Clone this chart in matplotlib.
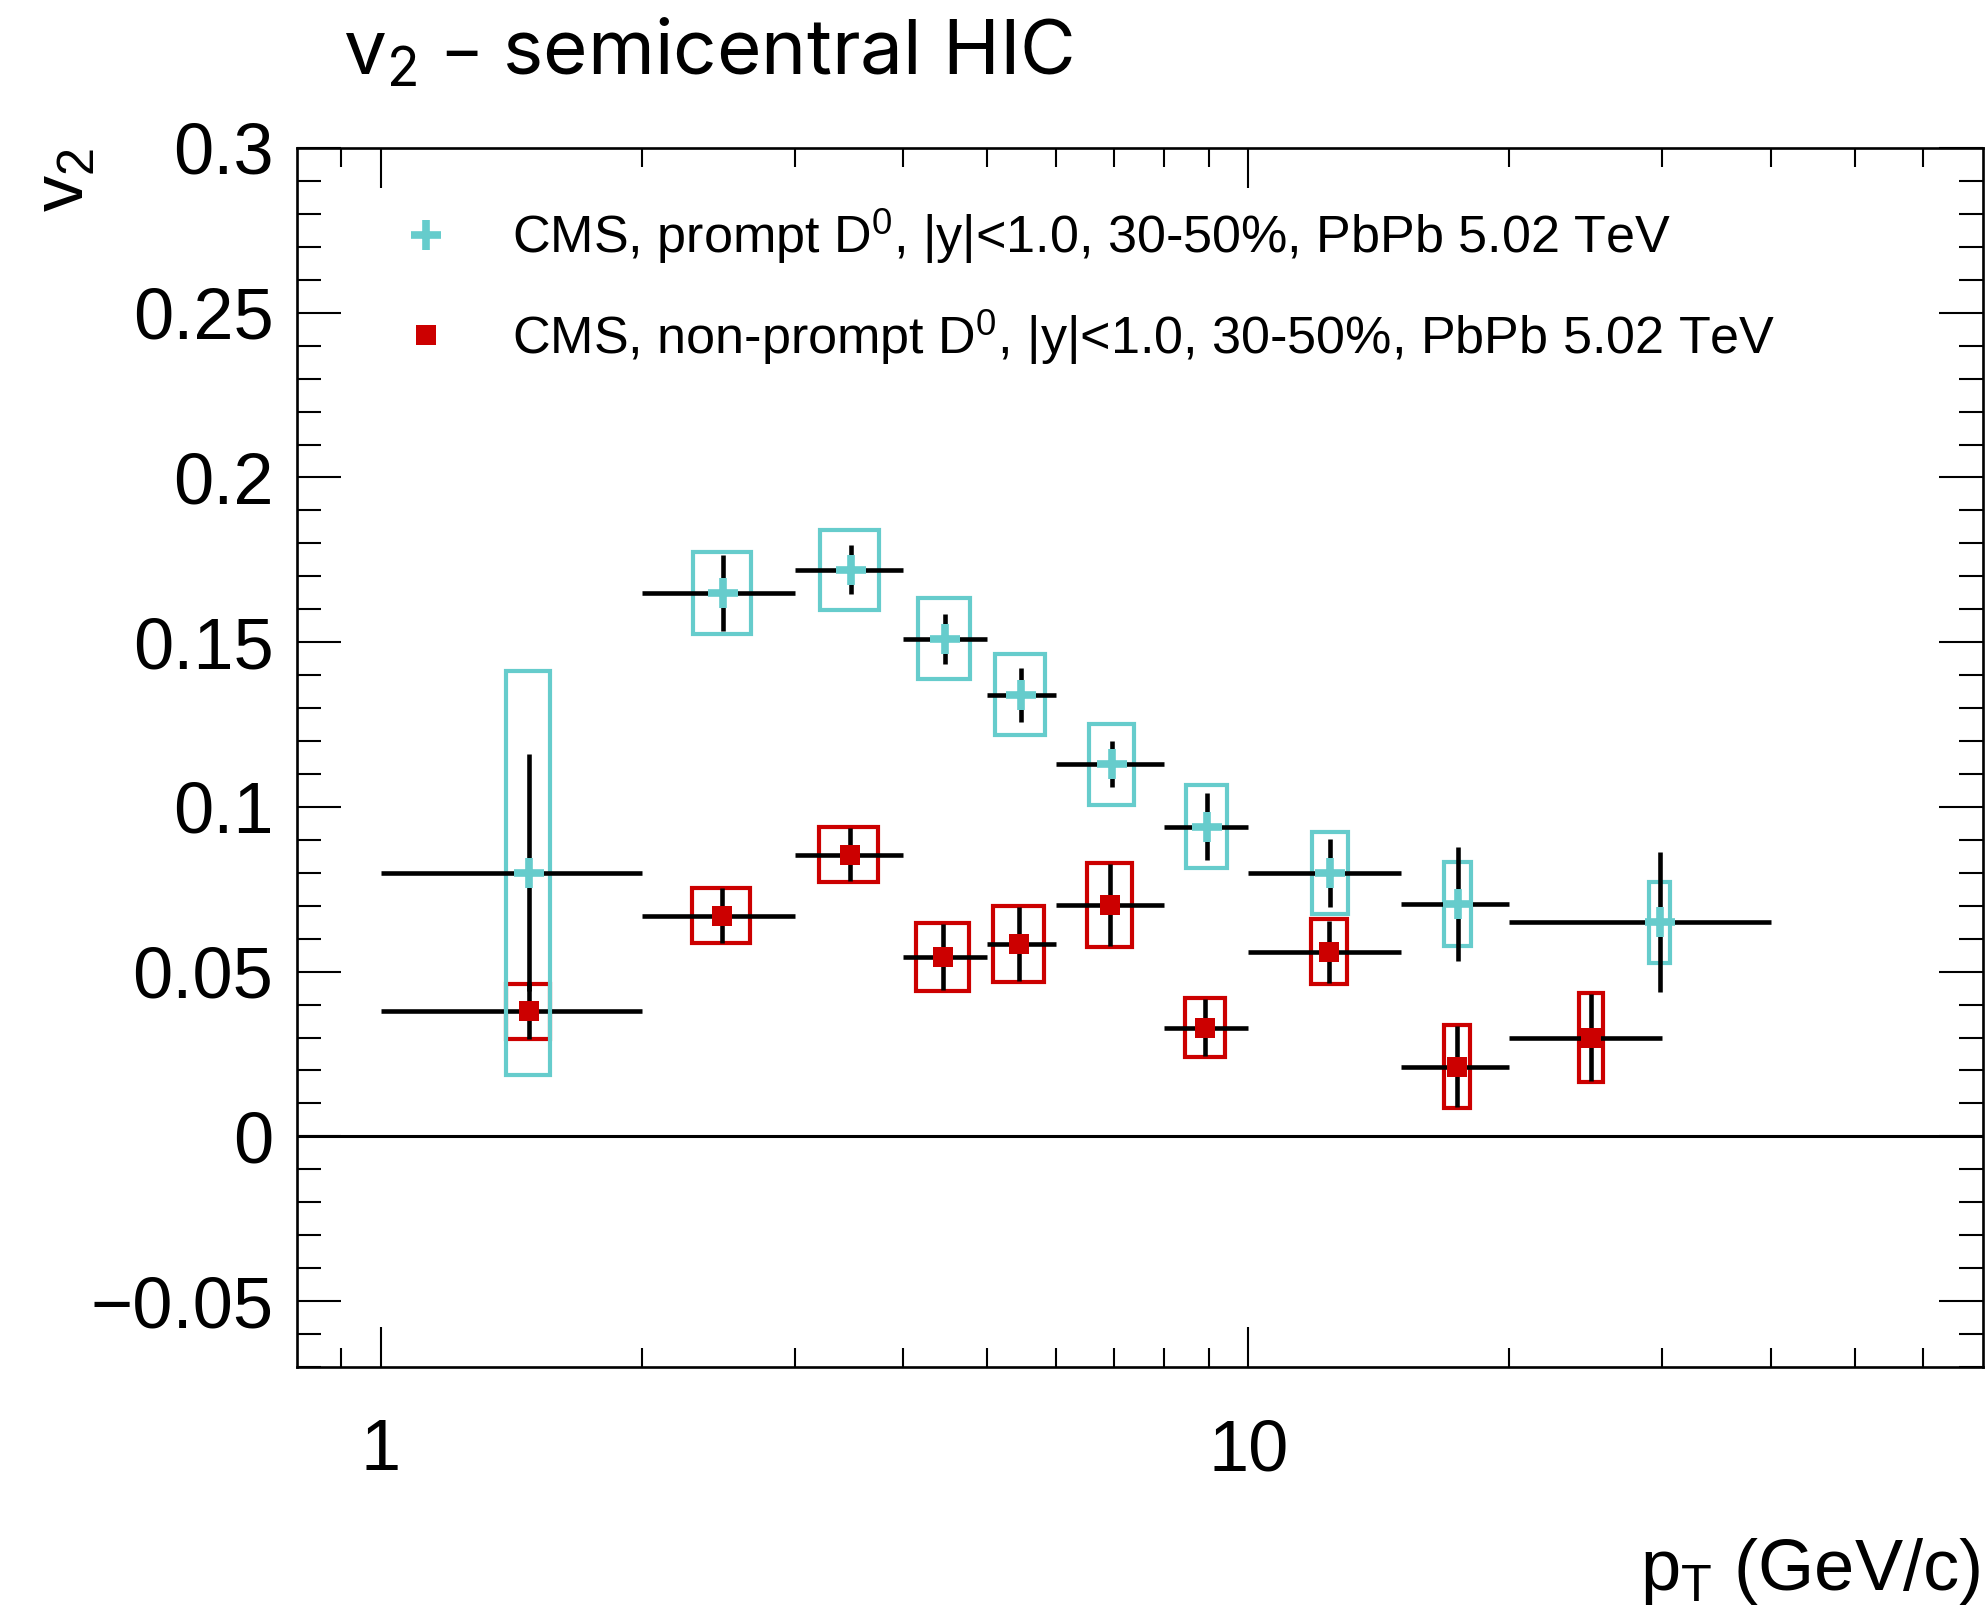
import numpy as np
import matplotlib
matplotlib.use("Agg")
import matplotlib.pyplot as plt
from matplotlib.ticker import FixedLocator, FixedFormatter, NullFormatter, MultipleLocator

# ---------------- data ----------------
prompt_pt = [1.48, 2.48, 3.48, 4.47, 5.47, 6.97, 8.96, 12.43, 17.43, 29.8]
prompt_lo = [1, 2, 3, 4, 5, 6, 8, 10, 15, 20]
prompt_hi = [2, 3, 4, 5, 6, 8, 10, 15, 20, 40]
prompt_v2 = [0.080, 0.165, 0.172, 0.151, 0.134, 0.113, 0.094, 0.080, 0.0705, 0.065]
prompt_stat = [0.036, 0.0115, 0.0074, 0.0075, 0.0083, 0.0071, 0.0102, 0.0103, 0.0173, 0.0213]
prompt_sys = [0.0614, 0.0124, 0.0122, 0.0123, 0.0123, 0.0123, 0.0126, 0.0124, 0.0128, 0.0123]
prompt_box_dx = [0.087, 0.19, 0.27, 0.31, 0.365, 0.415, 0.48, 0.58, 0.61, 0.835]

nonprompt_pt = [1.48, 2.47, 3.47, 4.45, 5.44, 6.93, 8.92, 12.4, 17.4, 24.86]
nonprompt_lo = [1, 2, 3, 4, 5, 6, 8, 10, 15, 20]
nonprompt_hi = [2, 3, 4, 5, 6, 8, 10, 15, 20, 30]
nonprompt_v2 = [0.038, 0.067, 0.0855, 0.0544, 0.0585, 0.0703, 0.033, 0.0561, 0.0212, 0.030]
nonprompt_stat = [0.0085, 0.0083, 0.008, 0.010, 0.0112, 0.0125, 0.0087, 0.0094, 0.0122, 0.0132]
nonprompt_sys = [0.0083, 0.0083, 0.0083, 0.0104, 0.0115, 0.0128, 0.009, 0.0098, 0.0125, 0.0136]
nonprompt_box_dx = [0.087, 0.19, 0.27, 0.31, 0.365, 0.415, 0.48, 0.58, 0.61, 0.8]

labels = ["CMS, prompt D$^{0}$, |y|<1.0, 30-50%, PbPb 5.02 TeV",
          "CMS, non-prompt D$^{0}$, |y|<1.0, 30-50%, PbPb 5.02 TeV"]
x_major_ticks = [1, 10]
x_major_labels = ["1", "10"]
x_minor_ticks = [0.9, 2, 3, 4, 5, 6, 7, 8, 9, 20, 30, 40, 50, 60]
title_text = "v$_{2}$ – semicentral HIC"
xlabel_text = "p$_{T}$ (GeV/c)"
ylabel_text = "v$_{2}$"

# ---------------- style ----------------
CYAN = "#66CCCC"
RED = "#CC0000"
plt.rcParams["font.family"] = ["Liberation Sans", "DejaVu Sans"]
plt.rcParams["mathtext.default"] = "regular"

W, H = 1988, 1613
fig = plt.figure(figsize=(W / 100, H / 100), dpi=100)
ax_l, ax_r, ax_t, ax_b = 297, 1983, 148, 1367
ax = fig.add_axes([ax_l / W, 1 - ax_b / H, (ax_r - ax_l) / W, (ax_b - ax_t) / H])
ax.set_xscale("log")
ax.set_xlim(0.8, 70.3)
ax.set_ylim(-0.07, 0.3)


def draw_series(pt, lo, hi, v2, stat, sys, dx, color, marker, ms, mew, z0):
    pt = np.asarray(pt, float)
    v2 = np.asarray(v2, float)
    sys = np.asarray(sys, float)
    dx = np.asarray(dx, float)
    ax.bar(pt, 2 * sys, width=2 * dx, bottom=v2 - sys, fill=False,
           edgecolor=color, linewidth=3.0, joinstyle="miter", zorder=z0)
    ax.errorbar(pt, v2, yerr=stat,
                xerr=[pt - np.asarray(lo, float), np.asarray(hi, float) - pt],
                fmt="none", ecolor="black", elinewidth=3.3, capsize=0, zorder=z0 + 1)
    if marker == "+":
        h, = ax.plot(pt, v2, ls="none", marker="+", ms=ms, mew=mew,
                     color=color, zorder=z0 + 2)
    else:
        h, = ax.plot(pt, v2, ls="none", marker=marker, ms=ms, mew=0,
                     color=color, zorder=z0 + 2)
    return h


h_np = draw_series(nonprompt_pt, nonprompt_lo, nonprompt_hi, nonprompt_v2,
                   nonprompt_stat, nonprompt_sys, nonprompt_box_dx,
                   RED, "s", 15, 0, 3)
h_p = draw_series(prompt_pt, prompt_lo, prompt_hi, prompt_v2,
                  prompt_stat, prompt_sys, prompt_box_dx,
                  CYAN, "+", 21, 5.5, 7)

ax.axhline(0, color="black", lw=2.2, zorder=1)

# ---------------- axes / ticks ----------------
for s in ax.spines.values():
    s.set_linewidth(1.9)
ax.xaxis.set_major_locator(FixedLocator(x_major_ticks))
ax.xaxis.set_major_formatter(FixedFormatter(x_major_labels))
ax.xaxis.set_minor_locator(FixedLocator(x_minor_ticks))
ax.xaxis.set_minor_formatter(NullFormatter())
ax.yaxis.set_major_locator(MultipleLocator(0.05))
ax.yaxis.set_minor_locator(MultipleLocator(0.01))
ax.yaxis.set_major_formatter(matplotlib.ticker.FuncFormatter(
    lambda v, p: ("%g" % round(v, 3)).replace("-", "\u2212")))

ax.tick_params(axis="both", which="both", direction="in", top=True, right=True,
               width=1.5, labelsize=52)
ax.tick_params(axis="x", which="major", length=29, pad=37)
ax.tick_params(axis="x", which="minor", length=14)
ax.tick_params(axis="y", which="major", length=32, pad=17)
ax.tick_params(axis="y", which="minor", length=17)

# axis titles
ax.set_xlabel(xlabel_text, fontsize=52, ha="right", va="baseline")
ax.xaxis.set_label_coords((1980 - ax_l) / (ax_r - ax_l), -(1590 - ax_b) / (ax_b - ax_t))
ax.set_ylabel(ylabel_text, fontsize=52, ha="right", va="baseline", rotation=90)
ax.yaxis.set_label_coords(-(ax_l - 84) / (ax_r - ax_l), 1.0)

# legend
leg = ax.legend([h_p, h_np], labels, loc="upper left",
                bbox_to_anchor=((400 - ax_l) / (ax_r - ax_l), 1 - (206 - ax_t) / (ax_b - ax_t)),
                frameon=False, fontsize=37.5, handlelength=1.0, handletextpad=1.16,
                borderaxespad=0, borderpad=0, labelspacing=0.78, numpoints=1)

# title
fig.text(343 / W, 1 - 75 / H, title_text, fontsize=55, ha="left", va="baseline",
         family=["Inter", "DejaVu Sans"])

fig.savefig("out.png", dpi=100)
